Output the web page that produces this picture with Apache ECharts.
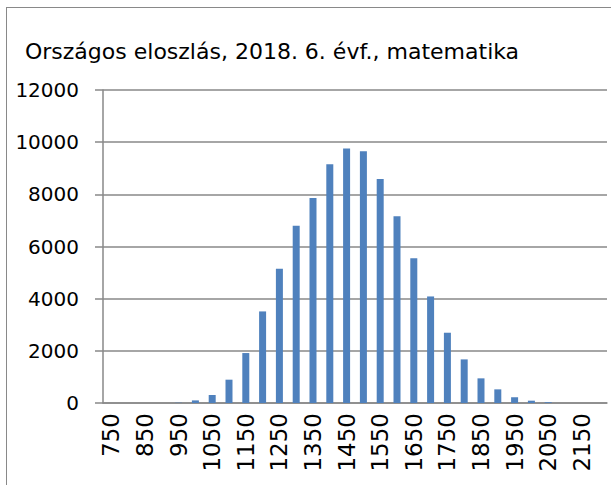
<!DOCTYPE html>
<html><head><meta charset="utf-8">
<script src="https://cdn.jsdelivr.net/npm/echarts@6/dist/echarts.min.js"></script>
<style>html,body{margin:0;padding:0;background:#fff;overflow:hidden}
#c{position:absolute;left:0;top:0;width:611px;height:485px}
#frame{position:absolute;left:6px;top:7px;width:800px;height:800px;border:1.3px solid #898989;box-sizing:border-box}
</style>
</head><body><div id="frame"></div><div id="c"></div>
<script>
const titleText = "Országos eloszlás, 2018. 6. évf., matematika";
const categories = ["750","800","850","900","950","1000","1050","1100","1150","1200","1250","1300","1350","1400","1450","1500","1550","1600","1650","1700","1750","1800","1850","1900","1950","2000","2050","2100","2150","2200"];
const counts = [0,0,0,0,10,100,306,894,1915,3511,5145,6792,7864,9153,9753,9651,8591,7162,5553,4085,2694,1672,945,523,217,89,30,0,0,0];
const yTicks = {min:0, max:12000, interval:2000};

const chart = echarts.init(document.getElementById('c'), null, {renderer:'svg'});
const gray = '#898989';
chart.setOption({
  animation:false,
  title:{text:titleText, left:25, top:40, padding:0, textStyle:{fontFamily:'DejaVu Sans', fontSize:22, fontWeight:'normal', color:'#000'}},
  grid:{left:103, right:4, top:90, bottom:82},
  xAxis:{
    type:'category', data:categories,
    axisLine:{lineStyle:{color:gray, width:1.5}},
    axisTick:{length:9, lineStyle:{color:gray, width:1.5}},
    axisLabel:{rotate:90, interval:1, margin:10, color:'#000', fontSize:23, fontFamily:'DejaVu Sans'}
  },
  yAxis:{
    type:'value', min:yTicks.min, max:yTicks.max, interval:yTicks.interval,
    axisLine:{show:true, lineStyle:{color:gray, width:1.5}},
    axisTick:{show:true, length:8, lineStyle:{color:gray, width:1.5}},
    splitLine:{lineStyle:{color:gray, width:1.5}},
    axisLabel:{margin:24, color:'#000', fontSize:20, fontFamily:'DejaVu Sans', formatter:function(v){return String(v);}}
  },
  series:[{type:'bar', data:counts, barWidth:7, itemStyle:{color:'#4F81BD'}}]
});
</script></body></html>
